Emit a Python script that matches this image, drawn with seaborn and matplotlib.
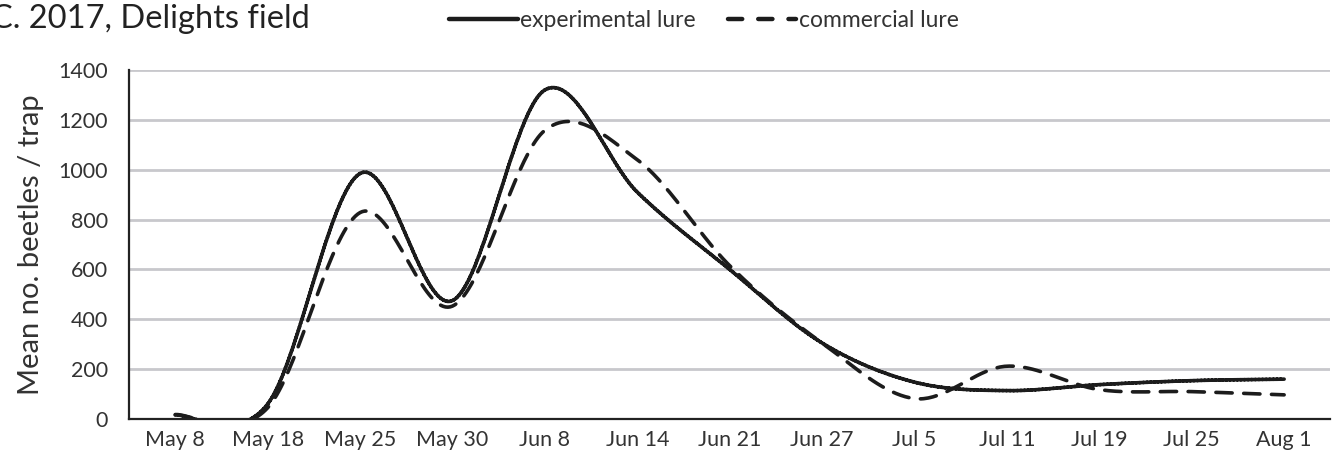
"""Mean beetle catch per trap, experimental vs commercial lure (2017, Delights field)."""

import matplotlib
matplotlib.use("Agg")
import matplotlib.pyplot as plt
import numpy as np
import pandas as pd
import seaborn as sns

dates = ["May 8", "May 18", "May 25", "May 30", "Jun 8", "Jun 14", "Jun 21",
         "Jun 27", "Jul 5", "Jul 11", "Jul 19", "Jul 25", "Aug 1"]
experimental = [16, 60, 985, 475, 1320, 910, 600, 305, 148, 114, 138, 154, 160]
commercial = [18, 45, 828, 453, 1158, 1040, 615, 305, 82, 212, 118, 110, 97]

INK = "#1c1c1c"


def smooth(values, steps=40):
    """Excel-style smoothed line (Catmull-Rom Bezier) through the points."""
    y = np.asarray(values, dtype=float)
    x = np.arange(len(y), dtype=float)
    px = np.concatenate([[x[0]], x, [x[-1]]])
    py = np.concatenate([[y[0]], y, [y[-1]]])
    xs, ys = [], []
    t = np.linspace(0, 1, steps, endpoint=False)
    for i in range(1, len(px) - 2):
        p0 = np.array([px[i], py[i]])
        p3 = np.array([px[i + 1], py[i + 1]])
        p1 = p0 + (p3 - np.array([px[i - 1], py[i - 1]])) / 6
        p2 = p3 - (np.array([px[i + 2], py[i + 2]]) - p0) / 6
        b = ((1 - t) ** 3)[:, None] * p0 + (3 * (1 - t) ** 2 * t)[:, None] * p1 \
            + (3 * (1 - t) * t ** 2)[:, None] * p2 + (t ** 3)[:, None] * p3
        xs.extend(b[:, 0])
        ys.extend(b[:, 1])
    xs.append(x[-1])
    ys.append(y[-1])
    return np.array(xs), np.array(ys)


sns.set_theme(style="white")
plt.rcParams["font.family"] = ["Lato", "DejaVu Sans"]

fig = plt.figure(figsize=(13.33, 4.62), dpi=100)
ax = fig.add_axes([0.0968, 0.093, 0.9012, 0.7555])

frames = []
for name, vals in [("experimental lure", experimental), ("commercial lure", commercial)]:
    sx, sy = smooth(vals)
    frames.append(pd.DataFrame({"x": sx, "y": sy, "lure": name}))
data = pd.concat(frames, ignore_index=True)

sns.lineplot(data=data, x="x", y="y", hue="lure", style="lure",
             palette=[INK, INK], dashes=[(1, 0), (4.5, 3.2)],
             linewidth=2.6, sort=False, estimator=None, ax=ax, legend=False)
for line in ax.get_lines():
    line.set_solid_capstyle("round")
    line.set_dash_capstyle("round")

ax.set_xlim(-0.5, len(dates) - 0.5)
ax.set_ylim(0, 1400)
ax.set_xticks(range(len(dates)))
ax.set_xticklabels(dates)
ax.set_yticks(range(0, 1401, 200))
ax.yaxis.grid(True, color="#c8c8cc", linewidth=2)
ax.xaxis.grid(False)
ax.set_axisbelow(True)
ax.tick_params(axis="both", length=0, labelsize=15.5, colors="#333333")
ax.tick_params(axis="y", pad=15)
ax.tick_params(axis="x", pad=8)
ax.set_xlabel("")
ax.set_ylabel("Mean no. beetles / trap", fontsize=21, color="#333333")
ax.yaxis.set_label_coords(-0.071, 0.5)
for side in ["top", "right"]:
    ax.spines[side].set_visible(False)
for side in ["left", "bottom"]:
    ax.spines[side].set_color("#222222")
    ax.spines[side].set_linewidth(1.6)

fig.text(-0.007, 0.94, "C. 2017, Delights field", fontsize=23.5, color="#222222",
         va="baseline", ha="left")

handles = [plt.Line2D([], [], color=INK, linewidth=3.2, solid_capstyle="round"),
           plt.Line2D([], [], color=INK, linewidth=3.2, dashes=(3.2, 3.6),
                      dash_capstyle="round")]
fig.legend(handles, ["experimental lure", "commercial lure"], loc="center",
           bbox_to_anchor=(0.528, 0.955), ncol=2, frameon=False, fontsize=16.5,
           handlelength=3.0, handletextpad=0.1, columnspacing=1.4,
           labelcolor="#333333")

fig.savefig("out.png", dpi=100)
